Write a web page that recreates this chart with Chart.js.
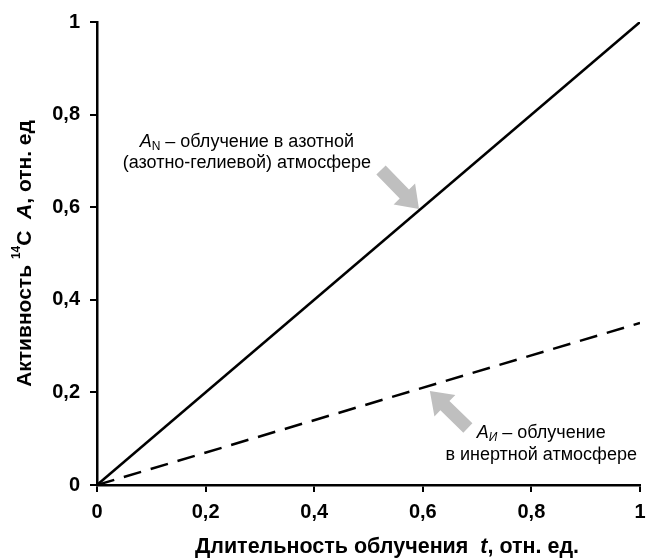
<!DOCTYPE html>
<html>
<head>
<meta charset="utf-8">
<script src="https://cdn.jsdelivr.net/npm/chart.js@4/dist/chart.umd.min.js"></script>
<style>
  html, body { margin: 0; padding: 0; background: #fff; }
  #wrap { width: 648px; height: 560px; }
</style>
</head>
<body>
<div id="wrap"><canvas id="c" width="648" height="560"></canvas></div>
<script>
// ---- data ----
const tValues = [0, 1];            // irradiation duration t, rel. units
const aNitrogen = [0, 1];          // A_N – nitrogen atmosphere
const aInert = [0, 0.35];          // A_И – inert atmosphere
const xTickValues = [0, 0.2, 0.4, 0.6, 0.8, 1];
const yTickValues = [0, 0.2, 0.4, 0.6, 0.8, 1];
const xTitle = ['Длительность облучения  ', 't', ', отн. ед.'];
const yTitle = ['Активность ', '14', 'C  ', 'A', ', отн. ед'];
const noteN = ['A', 'N', ' – облучение в азотной', '(азотно-гелиевой) атмосфере'];
const noteI = ['A', 'И', ' – облучение', 'в инертной атмосфере'];
// annotation anchors (data units)
const noteNPos = { x: 0.276, y: 0.741 };
const noteIPos = { x: 0.818, y: 0.112 };
const arrowN = { x: 0.593, y: 0.596 };
const arrowI = { x: 0.613, y: 0.203 };

const FONT = '"Liberation Sans", Arial, sans-serif';
const fmt = v => {
  const r = Math.round(v * 10) / 10;
  return (r === 0 || r === 1) ? String(r) : r.toFixed(1).replace('.', ',');
};

function drawArrow(ctx, tx, ty, dx, dy) {
  const len = Math.hypot(dx, dy);
  const ux = -dx / len, uy = -dy / len;
  const px = -uy, py = ux;
  const sw = 6.5, hw = 15, hl = 21;
  const bx = tx - ux * hl, by = ty - uy * hl;
  const sx = tx + dx, sy = ty + dy;
  ctx.beginPath();
  ctx.moveTo(sx + px * sw, sy + py * sw);
  ctx.lineTo(bx + px * sw, by + py * sw);
  ctx.lineTo(bx + px * hw, by + py * hw);
  ctx.lineTo(tx, ty);
  ctx.lineTo(bx - px * hw, by - py * hw);
  ctx.lineTo(bx - px * sw, by - py * sw);
  ctx.lineTo(sx - px * sw, sy - py * sw);
  ctx.closePath();
  ctx.fillStyle = '#bfbfbf';
  ctx.fill();
}

function drawRuns(ctx, runs, cx, cy) {
  let total = 0;
  runs.forEach(r => { ctx.font = r.font; r.w = ctx.measureText(r.t).width; total += r.w; });
  let x = cx - total / 2;
  ctx.textBaseline = 'middle';
  ctx.textAlign = 'left';
  runs.forEach(r => { ctx.font = r.font; ctx.fillText(r.t, x, cy + (r.dy || 0)); x += r.w; });
}

const annotations = {
  id: 'annotations',
  afterDraw(chart) {
    const { ctx, scales: { x, y }, chartArea } = chart;
    ctx.save();
    ctx.fillStyle = '#000';
    // x title
    drawRuns(ctx, [
      { t: xTitle[0], font: 'bold 21.5px ' + FONT },
      { t: xTitle[1], font: 'italic bold 21.5px ' + FONT },
      { t: xTitle[2], font: 'bold 21.5px ' + FONT }
    ], 387, 547);
    // y title (rotated)
    ctx.save();
    ctx.translate(25, (chartArea.top + chartArea.bottom) / 2);
    ctx.rotate(-Math.PI / 2);
    drawRuns(ctx, [
      { t: yTitle[0], font: 'bold 21px ' + FONT },
      { t: yTitle[1], font: 'bold 12px ' + FONT, dy: -8 },
      { t: yTitle[2], font: 'bold 21px ' + FONT },
      { t: yTitle[3], font: 'italic bold 21px ' + FONT },
      { t: yTitle[4], font: 'bold 21px ' + FONT }
    ], 0, 0);
    ctx.restore();
    // note N
    let cx = x.getPixelForValue(noteNPos.x), cy = y.getPixelForValue(noteNPos.y);
    drawRuns(ctx, [
      { t: noteN[0], font: 'italic 18px ' + FONT },
      { t: noteN[1], font: '12px ' + FONT, dy: 5 },
      { t: noteN[2], font: '18px ' + FONT }
    ], cx, cy);
    drawRuns(ctx, [{ t: noteN[3], font: '18px ' + FONT }], cx, cy + 21);
    // note I
    cx = x.getPixelForValue(noteIPos.x); cy = y.getPixelForValue(noteIPos.y);
    drawRuns(ctx, [
      { t: noteI[0], font: 'italic 18px ' + FONT },
      { t: noteI[1], font: 'italic 12px ' + FONT, dy: 5 },
      { t: noteI[2], font: '18px ' + FONT }
    ], cx, cy);
    drawRuns(ctx, [{ t: noteI[3], font: '18px ' + FONT }], cx, cy + 22);
    // arrows
    drawArrow(ctx, x.getPixelForValue(arrowN.x), y.getPixelForValue(arrowN.y), -38, -39);
    drawArrow(ctx, x.getPixelForValue(arrowI.x), y.getPixelForValue(arrowI.y), 38, 37);
    ctx.restore();
  }
};

new Chart(document.getElementById('c'), {
  type: 'line',
  data: {
    datasets: [
      {
        label: 'A_N',
        data: tValues.map((t, i) => ({ x: t, y: aNitrogen[i] })),
        borderColor: '#000', borderWidth: 2.5, pointRadius: 0, fill: false
      },
      {
        label: 'A_И',
        data: tValues.map((t, i) => ({ x: t, y: aInert[i] })),
        borderColor: '#000', borderWidth: 2.5, borderDash: [18, 10], pointRadius: 0, fill: false
      }
    ]
  },
  options: {
    responsive: false,
    animation: false,
    layout: { padding: { top: 22, right: 0, left: 0, bottom: 0 } },
    plugins: { legend: { display: false }, tooltip: { enabled: false } },
    scales: {
      x: {
        type: 'linear', min: 0, max: 1,
        afterBuildTicks: s => { s.ticks = xTickValues.map(v => ({ value: v })); },
        afterFit: s => { s.height = 75; s.paddingRight = 8; s.paddingLeft = 0; },
        ticks: { color: '#000', font: { family: FONT, size: 20, weight: 'bold' }, padding: 8, callback: v => fmt(v), maxRotation: 0 },
        grid: { display: true, drawOnChartArea: false, drawTicks: true, tickLength: 7, color: '#000', lineWidth: 2 },
        border: { display: true, color: '#000', width: 2.5 }
      },
      y: {
        type: 'linear', min: 0, max: 1,
        afterBuildTicks: s => { s.ticks = yTickValues.map(v => ({ value: v })); },
        afterFit: s => { s.width = 97; },
        ticks: { color: '#000', font: { family: FONT, size: 20, weight: 'bold' }, padding: 10, callback: v => fmt(v) },
        grid: { display: true, drawOnChartArea: false, drawTicks: true, tickLength: 7, color: '#000', lineWidth: 2 },
        border: { display: true, color: '#000', width: 2.5 }
      }
    }
  },
  plugins: [annotations]
});
</script>
</body>
</html>
